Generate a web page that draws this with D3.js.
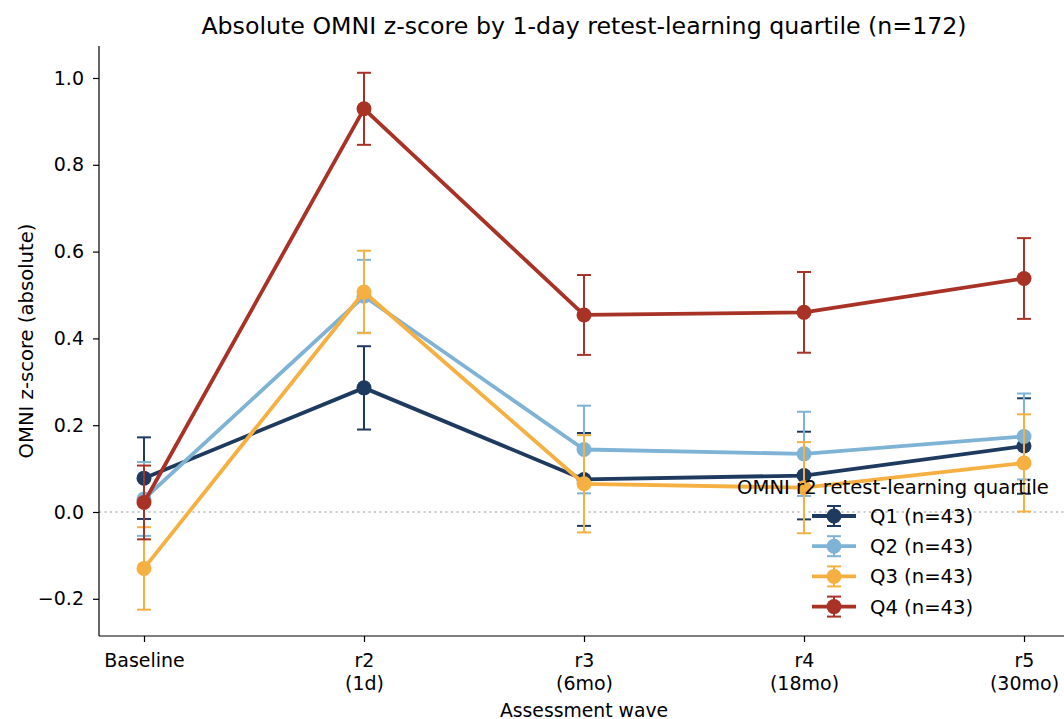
<!DOCTYPE html>
<html>
<head>
<meta charset="utf-8">
<script src="https://cdn.jsdelivr.net/npm/d3@7"></script>
<style>
  html, body { margin: 0; padding: 0; background: #ffffff; }
  svg { display: block; font-family: "DejaVu Sans", sans-serif; }
  svg text { font-family: "DejaVu Sans", sans-serif; }
</style>
</head>
<body>
<svg id="chart" width="1064" height="719"></svg>
<script>
// Assessment waves (two-line tick labels)
const waves = ["Baseline", "r2", "r3", "r4", "r5"];
const waveSub = ["", "(1d)", "(6mo)", "(18mo)", "(30mo)"];

// Quartile groups
const groups = ["Q1 (n=43)", "Q2 (n=43)", "Q3 (n=43)", "Q4 (n=43)"];
const colors = ["#1f3a5f", "#7fb3d5", "#f5b041", "#a93226"];

// Mean absolute OMNI z-score per wave
const q1Mean = [0.078, 0.286, 0.075, 0.084, 0.152];
const q2Mean = [0.030, 0.497, 0.144, 0.134, 0.174];
const q3Mean = [-0.130, 0.507, 0.065, 0.056, 0.113];
const q4Mean = [0.022, 0.929, 0.454, 0.460, 0.538];

// Error half-widths (standard error)
const q1Err = [0.094, 0.096, 0.107, 0.101, 0.110];
const q2Err = [0.085, 0.084, 0.101, 0.097, 0.099];
const q3Err = [0.095, 0.095, 0.112, 0.105, 0.112];
const q4Err = [0.085, 0.083, 0.092, 0.093, 0.093];

const yTicks = [-0.2, 0.0, 0.2, 0.4, 0.6, 0.8, 1.0];

const means = [q1Mean, q2Mean, q3Mean, q4Mean];
const errs = [q1Err, q2Err, q3Err, q4Err];

const svg = d3.select("#chart");
const plot = { left: 99, right: 1069, top: 46, bottom: 636 };
const FONT = "DejaVu Sans";

const x = d3.scalePoint()
  .domain(waves)
  .range([plot.left, plot.right])
  .padding(0.2045);

const y = d3.scaleLinear()
  .domain([-0.2857, 1.0737])
  .range([plot.bottom, plot.top]);

const fmt = v => d3.format(".1f")(v).replace("-", "\u2212");

// Zero reference line
svg.append("line")
  .attr("x1", plot.left).attr("x2", plot.right)
  .attr("y1", y(0)).attr("y2", y(0))
  .attr("stroke", "#b8b8b8")
  .attr("stroke-width", 1.6)
  .attr("stroke-dasharray", "2,3.5");

// Series: error bars, line, markers
const capHalf = 7;
const line = d3.line().x((d, i) => x(waves[i])).y(d => y(d));

groups.forEach((g, gi) => {
  const layer = svg.append("g");
  const c = colors[gi];
  const m = means[gi], e = errs[gi];

  m.forEach((v, i) => {
    const cx = x(waves[i]);
    const lo = y(v - e[i]), hi = y(v + e[i]);
    layer.append("line")
      .attr("x1", cx).attr("x2", cx).attr("y1", lo).attr("y2", hi)
      .attr("stroke", c).attr("stroke-width", 2);
    [lo, hi].forEach(yy => {
      layer.append("line")
        .attr("x1", cx - capHalf).attr("x2", cx + capHalf)
        .attr("y1", yy).attr("y2", yy)
        .attr("stroke", c).attr("stroke-width", 2);
    });
  });

  layer.append("path")
    .attr("d", line(m))
    .attr("fill", "none")
    .attr("stroke", c)
    .attr("stroke-width", 3.8)
    .attr("stroke-linejoin", "round");

  layer.selectAll("circle")
    .data(m)
    .join("circle")
    .attr("cx", (d, i) => x(waves[i]))
    .attr("cy", d => y(d))
    .attr("r", 7.5)
    .attr("fill", c);
});

// Y axis
const yAxis = svg.append("g")
  .attr("transform", `translate(${plot.left},0)`)
  .call(d3.axisLeft(y).tickValues(yTicks).tickFormat(fmt).tickSizeOuter(0).tickSize(6).tickPadding(9));
yAxis.attr("font-family", FONT).attr("font-size", 19);
yAxis.select(".domain").attr("stroke", "#000").attr("stroke-width", 1.2)
  .attr("d", `M0,${plot.top}V${plot.bottom}`);
yAxis.selectAll(".tick line").attr("stroke", "#000").attr("stroke-width", 1.2);
yAxis.selectAll(".tick text").attr("font-size", 19).attr("fill", "#000");

// X axis
const xAxis = svg.append("g")
  .attr("transform", `translate(0,${plot.bottom})`)
  .call(d3.axisBottom(x).tickSizeOuter(0).tickSize(6).tickFormat(() => ""));
xAxis.attr("font-family", FONT).attr("font-size", 19);
xAxis.select(".domain").attr("stroke", "#000").attr("stroke-width", 1.2)
  .attr("d", `M${plot.left},0H${plot.right}`);
xAxis.selectAll(".tick line").attr("stroke", "#000").attr("stroke-width", 1.2);
xAxis.selectAll(".tick").each(function(d, i) {
  const t = d3.select(this).append("text")
    .attr("fill", "#000")
    .attr("font-size", 19)
    .attr("text-anchor", "middle");
  t.append("tspan").attr("x", 0).attr("y", 31).text(d);
  if (waveSub[i]) t.append("tspan").attr("x", 0).attr("y", 53.5).text(waveSub[i]);
});

// Axis titles and chart title
svg.append("text")
  .attr("x", (plot.left + plot.right) / 2).attr("y", 716.5)
  .attr("text-anchor", "middle").attr("font-size", 18.8)
  .text("Assessment wave");

svg.append("text")
  .attr("transform", `translate(33,${(plot.top + plot.bottom) / 2}) rotate(-90)`)
  .attr("text-anchor", "middle").attr("font-size", 19.6)
  .text("OMNI z-score (absolute)");

svg.append("text")
  .attr("x", (plot.left + plot.right) / 2).attr("y", 34)
  .attr("text-anchor", "middle").attr("font-size", 23.7)
  .text("Absolute OMNI z-score by 1-day retest-learning quartile (n=172)");

// Legend
const legend = svg.append("g");
legend.append("text")
  .attr("x", 893).attr("y", 494)
  .attr("text-anchor", "middle").attr("font-size", 19.6)
  .text("OMNI r2 retest-learning quartile");

groups.forEach((g, gi) => {
  const ly = 516 + gi * 30.2;
  const c = colors[gi];
  const row = legend.append("g").attr("transform", `translate(0,${ly})`);
  row.append("line").attr("x1", 812).attr("x2", 856).attr("y1", 0).attr("y2", 0)
    .attr("stroke", c).attr("stroke-width", 3.8);
  row.append("line").attr("x1", 834).attr("x2", 834).attr("y1", -10).attr("y2", 10)
    .attr("stroke", c).attr("stroke-width", 2);
  [-10, 10].forEach(yy => row.append("line")
    .attr("x1", 827).attr("x2", 841).attr("y1", yy).attr("y2", yy)
    .attr("stroke", c).attr("stroke-width", 2));
  row.append("circle").attr("cx", 834).attr("cy", 0).attr("r", 7.5).attr("fill", c);
  row.append("text").attr("x", 870).attr("y", 7)
    .attr("font-size", 19.6).text(g);
});
</script>
</body>
</html>
